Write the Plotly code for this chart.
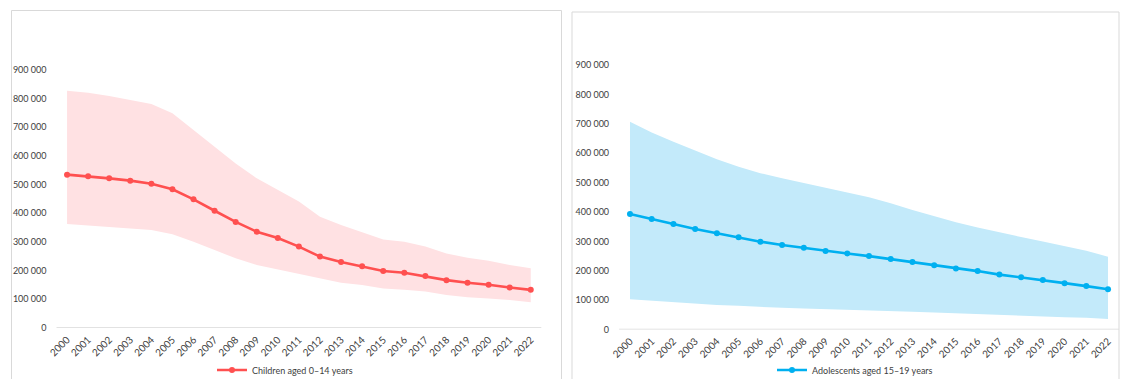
import plotly.graph_objects as go

W, H = 1128, 379

years = [str(y) for y in range(2000, 2023)]

# Children aged 0-14 years: estimate with lower / upper bounds
children = [535000, 529000, 522000, 514000, 503000, 484000, 449000, 409000, 370000,
            336000, 314000, 284000, 249000, 230000, 215000, 199000, 193000, 181000,
            167000, 158000, 151000, 141000, 133000]
children_low = [363000, 358000, 353000, 346000, 342000, 327000, 301000, 272000, 243000,
                220000, 205000, 190000, 173000, 158000, 150000, 138000, 133000, 127000,
                115000, 107000, 103000, 98000, 90000]
children_high = [828000, 821000, 809000, 795000, 781000, 749000, 691000, 632000, 574000,
                 522000, 481000, 441000, 388000, 359000, 334000, 309000, 301000, 284000,
                 260000, 245000, 235000, 220000, 208000]

# Adolescents aged 15-19 years: estimate with lower / upper bounds
adolescents = [393000, 376000, 359000, 342000, 328000, 314000, 299000, 288000, 278000,
               267000, 259000, 250000, 240000, 230000, 219000, 208000, 199000, 187000,
               178000, 169000, 158000, 148000, 137000]
adolescents_low = [103000, 98000, 93000, 88000, 84000, 81000, 77000, 74000, 72000,
                   70000, 69000, 67000, 64000, 61000, 58000, 55000, 52000, 50000,
                   47000, 45000, 42000, 40000, 36000]
adolescents_high = [707000, 670000, 639000, 609000, 579000, 554000, 532000, 515000, 498000,
                    481000, 466000, 450000, 430000, 407000, 386000, 365000, 347000, 330000,
                    315000, 300000, 285000, 268000, 248000]

y_ticks = list(range(0, 1000000, 100000))

RED = "#FF5050"
RED_BAND = "#FFE1E3"
BLUE = "#00B0F0"
BLUE_BAND = "#C3EAFA"
GRID = "#D9D9D9"
TEXT = "#404040"
FONT = "Lato"


def px_x(v):
    return v / W


def px_y(v):
    return (H - v) / H


fig = go.Figure()


def add_series(xa, ya, est, low, high, line_col, band_col, name, legend):
    fig.add_trace(go.Scatter(x=years, y=low, xaxis=xa, yaxis=ya, mode="lines",
                             line=dict(width=0, color=band_col), showlegend=False,
                             hoverinfo="skip"))
    fig.add_trace(go.Scatter(x=years, y=high, xaxis=xa, yaxis=ya, mode="lines",
                             line=dict(width=0, color=band_col), fill="tonexty",
                             fillcolor=band_col, showlegend=False, hoverinfo="skip"))
    fig.add_trace(go.Scatter(x=years, y=est, xaxis=xa, yaxis=ya, mode="lines+markers",
                             line=dict(width=2.6, color=line_col),
                             marker=dict(size=6, color=line_col),
                             name=name, legend=legend, showlegend=True))


add_series("x", "y", children, children_low, children_high, RED, RED_BAND,
           "Children aged 0\u201314 years", "legend")
add_series("x2", "y2", adolescents, adolescents_low, adolescents_high, BLUE, BLUE_BAND,
           "Adolescents aged 15\u201319 years", "legend2")

xaxis_common = dict(type="category", range=[-0.5, len(years) - 0.5], automargin=False,
                    showgrid=False, zeroline=False, showline=False,
                    tickangle=-45, tickfont=dict(family=FONT, size=10, color=TEXT),
                    ticks="", ticklabelstandoff=3, fixedrange=True)
yaxis_common = dict(range=[0, 900000], tickvals=y_ticks, tickformat=",", automargin=False,
                    showgrid=False, zeroline=False, showline=False,
                    tickfont=dict(family=FONT, size=9, color=TEXT), ticks="",
                    ticklabelstandoff=9, fixedrange=True)

legend_common = dict(orientation="h", xanchor="left", yanchor="middle",
                     font=dict(family=FONT, size=9, color=TEXT), bgcolor="rgba(0,0,0,0)",
                     itemclick=False, itemdoubleclick=False, itemwidth=30)

fig.update_layout(
    width=W, height=H,
    margin=dict(l=0, r=0, t=0, b=0, autoexpand=False),
    paper_bgcolor="white", plot_bgcolor="rgba(0,0,0,0)",
    separators=". ",
    xaxis=dict(domain=[px_x(56.5), px_x(541.3)], anchor="y", **xaxis_common),
    yaxis=dict(domain=[px_y(328), px_y(70)], anchor="x", **yaxis_common),
    xaxis2=dict(domain=[px_x(619.1), px_x(1118.9)], anchor="y2", **xaxis_common),
    yaxis2=dict(domain=[px_y(329.6), px_y(65)], anchor="x2", **yaxis_common),
    legend=dict(x=px_x(212), y=px_y(370), **legend_common),
    legend2=dict(x=px_x(772), y=px_y(370), **legend_common),
    showlegend=True,
)

shapes = [
    # panel frames
    dict(type="rect", xref="paper", yref="paper", x0=px_x(11.5), x1=px_x(561.5),
         y0=px_y(395), y1=px_y(10.5), line=dict(color=GRID, width=1), layer="below"),
    dict(type="rect", xref="paper", yref="paper", x0=px_x(572), x1=px_x(1119),
         y0=px_y(395), y1=px_y(12), line=dict(color=GRID, width=1), layer="below"),
    # category axis baselines
    dict(type="line", xref="x domain", yref="y", x0=0, x1=1, y0=0, y1=0,
         line=dict(color=GRID, width=1.5)),
    dict(type="line", xref="x2 domain", yref="y2", x0=0, x1=1, y0=0, y1=0,
         line=dict(color=GRID, width=1.5)),
]
fig.update_layout(shapes=shapes)

fig.write_html("out.html")
